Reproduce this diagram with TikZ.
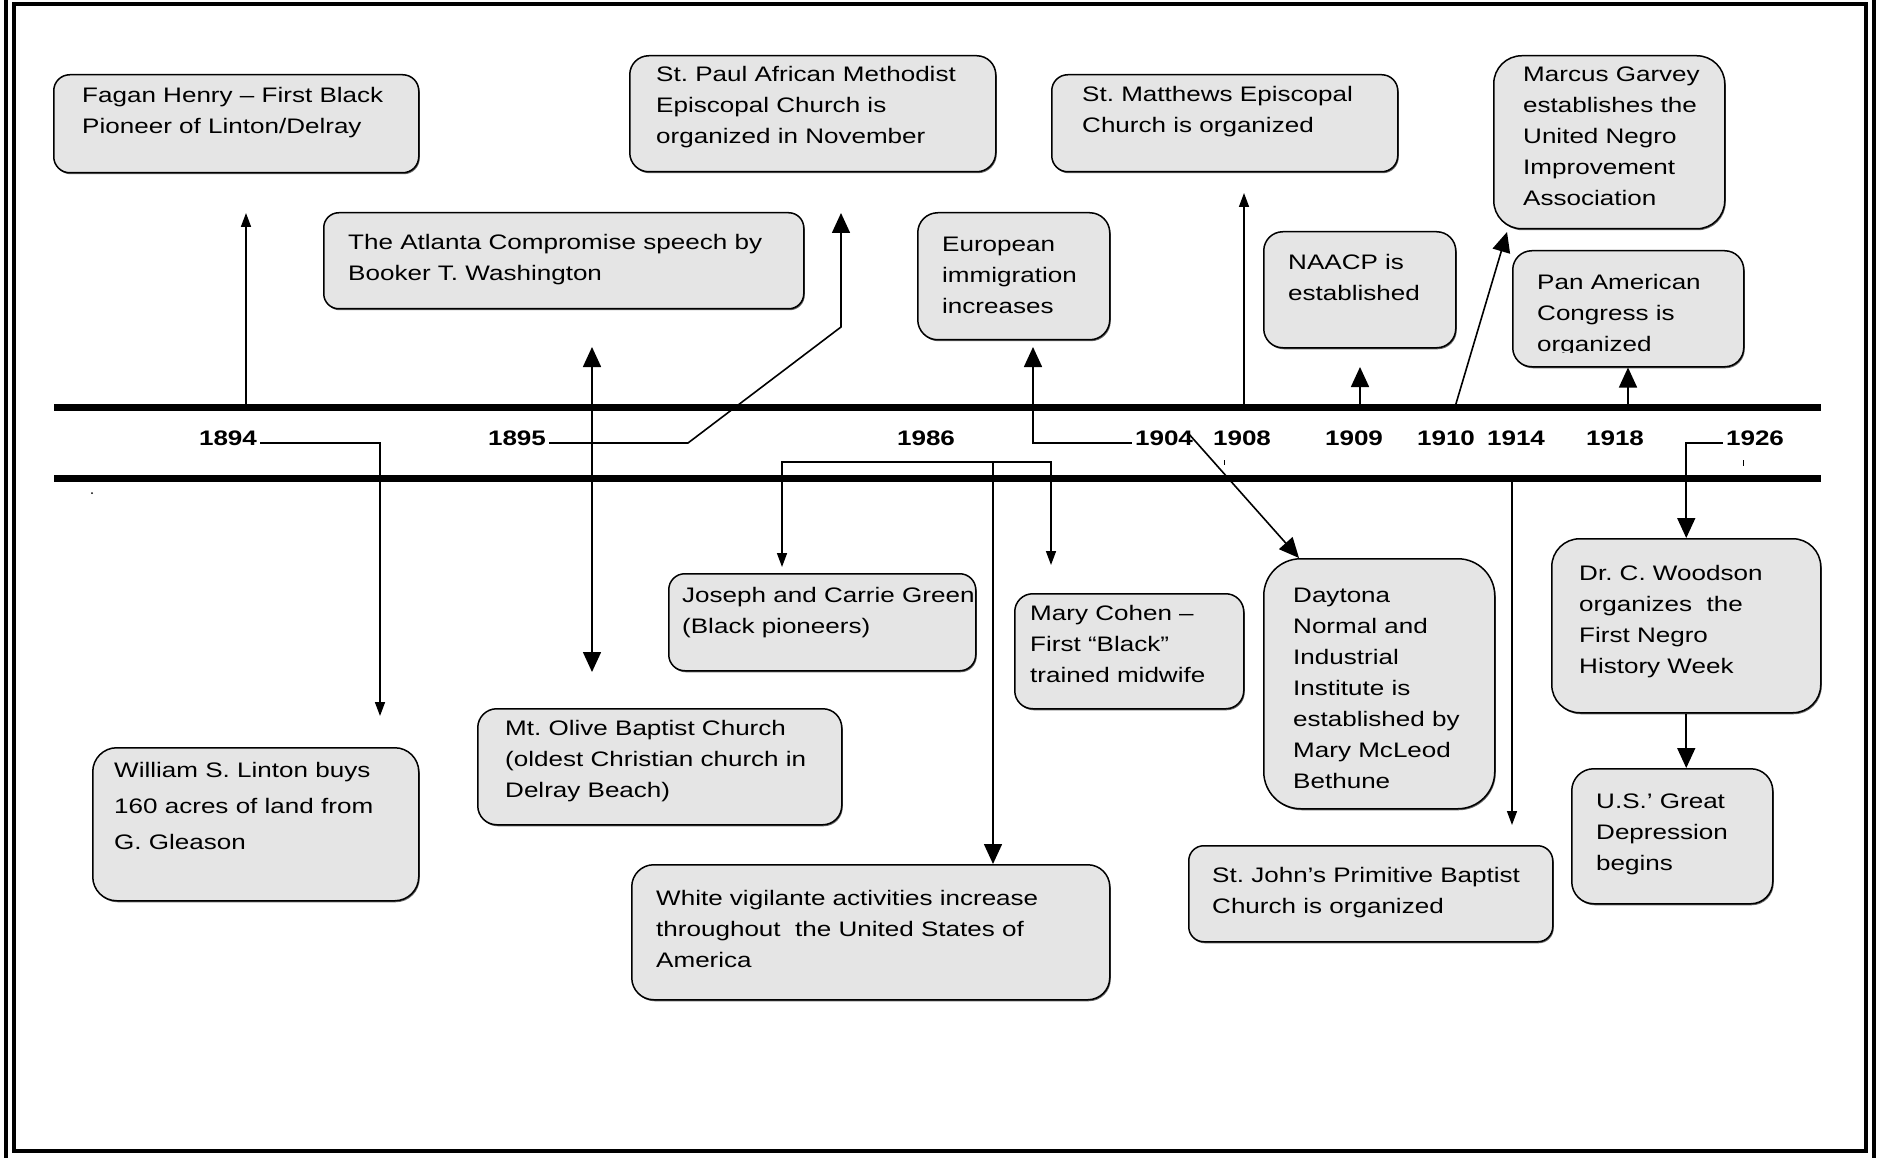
\documentclass[tikz,border=0pt]{standalone}
\usepackage{fontspec}
\setmainfont{Liberation Sans}[FakeStretch=1.24]
\usetikzlibrary{arrows.meta,calc,shadows}
\frenchspacing

\tikzset{
  evbox/.style={draw, line width=1.5pt, fill=black!10, anchor=north west, inner sep=0pt,
    drop shadow={shadow xshift=1pt, shadow yshift=-1.5pt, opacity=0.6, fill=black}},
  evtext/.style={anchor=north west, align=left, inner sep=0pt, font=\fontsize{21}{31}\selectfont},
  year/.style={font=\fontsize{21}{25}\selectfont\bfseries, inner sep=3pt},
  bar/.style={line width=7pt},
  link/.style={line width=1.6pt},
  smallarrow/.style={link, -{Triangle[length=14pt,width=10pt]}},
  bigarrow/.style={link, -{Triangle[length=20pt,width=18pt]}},
  bothways/.style={link, {Triangle[length=20pt,width=18pt]}-{Triangle[length=20pt,width=18pt]}}
}

\begin{document}
\begin{tikzpicture}[x=1pt, y=-1pt]
    \useasboundingbox (0,0) rectangle (1877,1158);

    % frame
    \draw[line width=4pt] (14,4) rectangle (1866,1151);
    \draw[line width=4pt] (6,0) -- (6,1158) (1874,0) -- (1874,1158);

    % timeline
    \draw[bar] (54,407) -- (1821,407);
    \draw[bar] (54,478) -- (1821,478);

    \node[year] (y1894) at (228,438) {1894};
    \node[year] (y1895) at (517,438) {1895};
    \node[year] (y1986) at (926,438) {1986};
    \node[year] (y1904) at (1164,438) {1904};
    \node[year] (y1908) at (1242,438) {1908};
    \node[year] (y1909) at (1354,438) {1909};
    \node[year] (y1910) at (1446,438) {1910};
    \node[year] (y1914) at (1516,438) {1914};
    \node[year] (y1918) at (1615,438) {1918};
    \node[year] (y1926) at (1755,438) {1926};

    % events above the line
    \node[evbox, minimum width=365, minimum height=98, rounded corners=16] (fagan) at (53,74) {};
    \node[evtext] (fagan-t) at (82,87) {Fagan Henry -- First Black\\Pioneer of Linton/Delray};

    \node[evbox, minimum width=480, minimum height=96, rounded corners=15] (atlanta) at (323,212) {};
    \node[evtext] (atlanta-t) at (348,234) {The Atlanta Compromise speech by\\Booker T. Washington};

    \node[evbox, minimum width=366, minimum height=116, rounded corners=19] (stpaul) at (629,55) {};
    \node[evtext] (stpaul-t) at (656,66) {St. Paul African Methodist\\Episcopal Church is\\organized in November};

    \node[evbox, minimum width=192, minimum height=127, rounded corners=20] (european) at (917,212) {};
    \node[evtext] (european-t) at (942,237) {European\\immigration\\increases};

    \node[evbox, minimum width=346, minimum height=97, rounded corners=16] (stmatthews) at (1051,74) {};
    \node[evtext] (stmatthews-t) at (1082,86) {St. Matthews Episcopal\\Church is organized};

    \node[evbox, minimum width=192, minimum height=116, rounded corners=19] (naacp) at (1263,231) {};
    \node[evtext] (naacp-t) at (1288,254) {NAACP is\\established};

    \node[evbox, minimum width=231, minimum height=173, rounded corners=28] (garvey) at (1493,55) {};
    \node[evtext] (garvey-t) at (1523,67) {Marcus Garvey\\establishes the\\United Negro\\Improvement\\Association};

    \node[evbox, minimum width=231, minimum height=116, rounded corners=19] (panam) at (1512,250) {};
    \begin{scope}
        \clip (1512,250) rectangle (1743,352);
        \node[evtext] (panam-t) at (1537,274) {Pan American\\Congress is\\organized};
    \end{scope}

    % events below the line
    \node[evbox, minimum width=307, minimum height=97, rounded corners=16] (greens) at (668,573) {};
    \node[evtext] (greens-t) at (682,587) {Joseph and Carrie Green\\(Black pioneers)};

    \node[evbox, minimum width=229, minimum height=115, rounded corners=18] (cohen) at (1014,593) {};
    \node[evtext] (cohen-t) at (1030,605) {Mary Cohen --\\First ``Black''\\trained midwife};

    \node[evbox, minimum width=231, minimum height=250, rounded corners=37] (daytona) at (1263,558) {};
    \begin{scope}
        \clip (1263,558) rectangle (1494,788);
        \node[evtext] (daytona-t) at (1293,588) {Daytona\\Normal and\\Industrial\\Institute is\\established by\\Mary McLeod\\Bethune};
    \end{scope}

    \node[evbox, minimum width=269, minimum height=174, rounded corners=28] (woodson) at (1551,538) {};
    \node[evtext] (woodson-t) at (1579,565) {Dr. C. Woodson\\organizes~ the\\First Negro\\History Week};

    \node[evbox, minimum width=201, minimum height=135, rounded corners=22] (depression) at (1571,768) {};
    \node[evtext] (depression-t) at (1596,794) {U.S.' Great\\Depression\\begins};

    \node[evbox, minimum width=326, minimum height=153, rounded corners=24] (linton) at (92,747) {};
    \node[evtext, font=\fontsize{21}{36}\selectfont] (linton-t) at (114,762) {William S. Linton buys\\160 acres of land from\\G. Gleason};

    \node[evbox, minimum width=364, minimum height=116, rounded corners=19] (olive) at (477,708) {};
    \node[evtext] (olive-t) at (505,720) {Mt. Olive Baptist Church\\(oldest Christian church in\\Delray Beach)};

    \node[evbox, minimum width=478, minimum height=135, rounded corners=22] (vigilante) at (631,864) {};
    \node[evtext] (vigilante-t) at (656,890) {White vigilante activities increase\\throughout~ the United States of\\America};

    \node[evbox, minimum width=364, minimum height=96, rounded corners=15] (stjohn) at (1188,845) {};
    \node[evtext] (stjohn-t) at (1212,867) {St. John's Primitive Baptist\\Church is organized};

    % connectors
    \coordinate (b1894) at (246,407);
    \coordinate (t1894) at (246,213);
    \draw[smallarrow] (b1894) -- (t1894);
    \coordinate (t1894b) at (380,716);
    \draw[smallarrow] ([yshift=-5pt]y1894.east) -| (t1894b);

    \coordinate (t1895a) at (592,347);
    \coordinate (t1895b) at (592,672);
    \draw[bothways] (t1895a) -- (t1895b);
    \coordinate (k1895) at (688,443);
    \coordinate (m1895) at (841,327);
    \coordinate (t1895c) at (841,213);
    \draw[bigarrow] ([yshift=-5pt]y1895.east) -- (k1895) -- (m1895) -- (t1895c);

    \coordinate (k1986) at (993,462);
    \coordinate (t1986a) at (782,567);
    \coordinate (t1986b) at (1051,565);
    \draw[smallarrow] (k1986) -| (t1986a);
    \draw[smallarrow] (k1986) -| (t1986b);
    \draw[bigarrow] (k1986) -- (k1986 |- vigilante.north);

    \coordinate (t1904) at (1033,347);
    \draw[bigarrow] ([yshift=-5pt]y1904.west) -| (t1904);
    \coordinate (k1904) at (1188,433);
    \draw[bigarrow] (k1904) -- ($(daytona.north west)+(36,0)$);

    \coordinate (b1908) at (1244,407);
    \coordinate (t1908) at (1244,193);
    \draw[smallarrow] (b1908) -- (t1908);

    \coordinate (b1909) at (1360,407);
    \coordinate (t1909) at (1360,367);
    \draw[bigarrow] (b1909) -- (t1909);

    \coordinate (b1910) at (1455,407);
    \coordinate (t1910) at (1507,232);
    \draw[bigarrow] (b1910) -- (t1910);

    \coordinate (b1914) at (1512,478);
    \coordinate (t1914) at (1512,825);
    \draw[smallarrow] (b1914) -- (t1914);

    \coordinate (b1918) at (1628,407);
    \draw[bigarrow] (b1918) -- (b1918 |- panam.south);

    \draw[bigarrow] ([yshift=-5pt]y1926.west) -| (woodson.north);
    \draw[bigarrow] (woodson.south) -- (woodson.south |- depression.north);

    % stray marks
    \fill (92,493) circle (1pt);
    \draw[line width=1pt] (1224,460) -- (1224,465);
    \draw[line width=1pt] (1743,460) -- (1743,466);
\end{tikzpicture}
\end{document}
